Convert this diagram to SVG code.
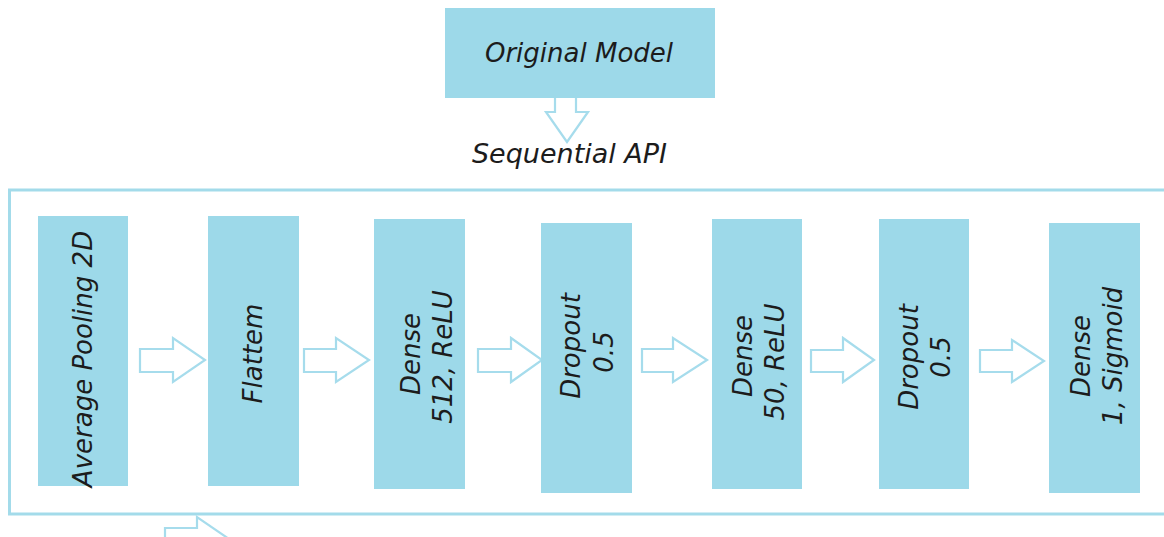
<svg xmlns="http://www.w3.org/2000/svg" width="1164" height="537" viewBox="0 0 1164 537">
<style>
.box{fill:#9dd9e9;}
.frame{fill:none;stroke:#a3dbea;stroke-width:3;}
.arr{fill:#ffffff;stroke:#a6dcec;stroke-width:2.2;stroke-linejoin:miter;}
.t{font-family:"DejaVu Sans",Verdana,sans-serif;font-style:italic;font-size:26px;fill:#1c1c1c;}
</style>
<rect width="1164" height="537" fill="#ffffff"/>
<g id="container"><rect class="frame" x="9.5" y="190" width="1170" height="324"/></g>
<g id="connectors">
<path class="arr" d="M555,96 V112 H546 L567,142 L588,112 H576 V96"/>
<path class="arr" d="M140,349 H173 V338 L205,360 L173,382 V372 H140 Z"/>
<path class="arr" d="M304,349 H336 V338 L369,360 L336,382 V372 H304 Z"/>
<path class="arr" d="M478,349 H511 V338 L542,360 L511,382 V372 H478 Z"/>
<path class="arr" d="M642,349 H673 V338 L707,360 L673,382 V372 H642 Z"/>
<path class="arr" d="M811,350 H843 V338 L874,360 L843,382 V372 H811 Z"/>
<path class="arr" d="M980,350 H1012 V340 L1044,361 L1012,382 V372 H980 Z"/>
<path class="arr" d="M165,551 V528 H197 V517 L229,539 L197,561 V551 Z"/>
</g>
<g id="original-model">
<rect class="box" x="445" y="8" width="270" height="90"/>
<text class="t" x="579" y="62" text-anchor="middle">Original Model</text>
</g>
<g id="sequential-api-label">
<text class="t" x="569.5" y="163" text-anchor="middle" textLength="195" lengthAdjust="spacingAndGlyphs">Sequential API</text>
</g>
<g id="avg-pool">
<rect class="box" x="38" y="216" width="90" height="270"/>
<text class="t" transform="translate(92,359) rotate(-90)" text-anchor="middle">Average Pooling 2D</text>
</g>
<g id="flatten">
<rect class="box" x="208" y="216" width="91" height="270"/>
<text class="t" transform="translate(262,353.5) rotate(-90)" text-anchor="middle">Flattem</text>
</g>
<g id="dense-512">
<rect class="box" x="374" y="219" width="91" height="270"/>
<text class="t" transform="translate(420,354) rotate(-90)" text-anchor="middle">Dense</text>
<text class="t" transform="translate(452,357) rotate(-90)" text-anchor="middle">512, ReLU</text>
</g>
<g id="dropout-1">
<rect class="box" x="541" y="223" width="91" height="270"/>
<text class="t" transform="translate(580,346) rotate(-90)" text-anchor="middle">Dropout</text>
<text class="t" transform="translate(613,352) rotate(-90)" text-anchor="middle">0.5</text>
</g>
<g id="dense-50">
<rect class="box" x="712" y="219" width="90" height="270"/>
<text class="t" transform="translate(752,356) rotate(-90)" text-anchor="middle">Dense</text>
<text class="t" transform="translate(784,362) rotate(-90)" text-anchor="middle">50, ReLU</text>
</g>
<g id="dropout-2">
<rect class="box" x="879" y="219" width="90" height="270"/>
<text class="t" transform="translate(918,357) rotate(-90)" text-anchor="middle">Dropout</text>
<text class="t" transform="translate(950,357) rotate(-90)" text-anchor="middle">0.5</text>
</g>
<g id="dense-1">
<rect class="box" x="1049" y="223" width="91" height="270"/>
<text class="t" transform="translate(1090,356) rotate(-90)" text-anchor="middle">Dense</text>
<text class="t" transform="translate(1122,356) rotate(-90)" text-anchor="middle">1, Sigmoid</text>
</g>
</svg>
